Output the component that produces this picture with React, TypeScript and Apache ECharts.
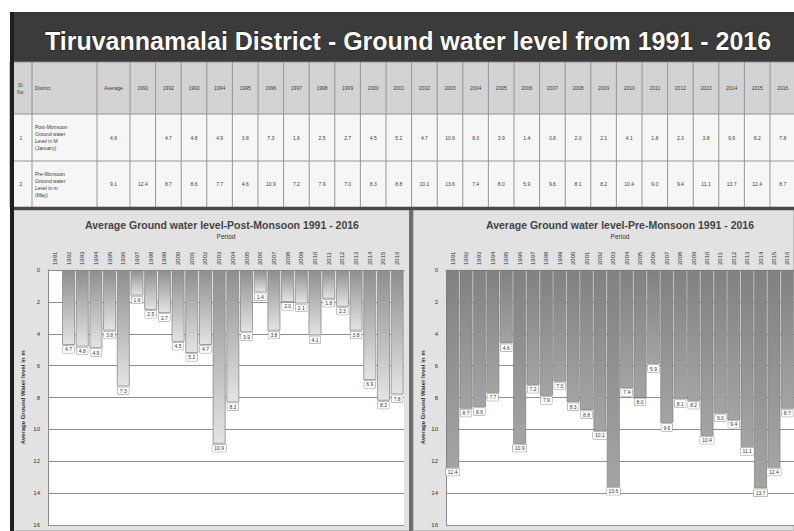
import React, { useEffect, useRef } from "react";
import * as echarts from "echarts";

const mainTitle = "Tiruvannamalai District - Ground water level from 1991 - 2016";
const postTitle = "Average Ground water level-Post-Monsoon 1991 - 2016";
const preTitle = "Average Ground water level-Pre-Monsoon 1991 - 2016";
const xAxisName = "Period";
const yAxisName = "Average Ground Water level in m";

const years = [
  "1991", "1992", "1993", "1994", "1995", "1996", "1997", "1998", "1999", "2000",
  "2001", "2002", "2003", "2004", "2005", "2006", "2007", "2008", "2009", "2010",
  "2011", "2012", "2013", "2014", "2015", "2016",
];
const postMonsoon: (number | null)[] = [
  null, 4.7, 4.8, 4.9, 3.8, 7.3, 1.6, 2.5, 2.7, 4.5,
  5.2, 4.7, 10.9, 8.3, 3.9, 1.4, 3.8, 2.0, 2.1, 4.1,
  1.8, 2.3, 3.8, 6.9, 8.2, 7.8,
];
const preMonsoon: number[] = [
  12.4, 8.7, 8.6, 7.7, 4.6, 10.9, 7.2, 7.9, 7.0, 8.3,
  8.8, 10.1, 13.6, 7.4, 8.0, 5.9, 9.6, 8.1, 8.2, 10.4,
  9.0, 9.4, 11.1, 13.7, 12.4, 8.7,
];
const postAverage = 4.6;
const preAverage = 9.1;
const yMin = 0;
const yMax = 16;
const yStep = 2;

const headerCells = ["Sl.\nNo.", "District", "Average"];
const rowSerial = ["1", "2"];
const rowNames = [
  "Post-Monsoon\nGround water\nLevel in M\n(January)",
  "Pre-Monsoon\nGround water\nLevel in m\n(May)",
];

const FONT = '"Liberation Sans", Arial, sans-serif';

function fmt(v: number | null) {
  return v == null ? "" : v.toFixed(1);
}

function buildGraphic() {
  const g: any[] = [];
  // banner
  g.push({ type: "rect", z: -5, silent: true, shape: { x: 10, y: 12, width: 784, height: 50 }, style: { fill: "#3b3b3b" } });
  g.push({
    type: "text", z: 5, x: 408, y: 41, silent: true,
    style: {
      text: mainTitle, fill: "#ffffff", fontSize: 25, fontWeight: "bold", fontFamily: FONT,
      align: "center", verticalAlign: "middle", stroke: "#1a1a1a", lineWidth: 1,
    },
  });
  // table
  const top = 62;
  const rowH = [52, 47, 46];
  const rowY = [top, top + rowH[0], top + rowH[0] + rowH[1], top + rowH[0] + rowH[1] + rowH[2]];
  const colX: number[] = [10, 32, 97, 130];
  for (let i = 1; i <= years.length; i++) colX.push(130 + i * 25.6);
  g.push({ type: "rect", z: -5, silent: true, shape: { x: 10, y: rowY[0], width: 784, height: rowH[0] }, style: { fill: "#d3d3d3" } });
  g.push({ type: "rect", z: -5, silent: true, shape: { x: 10, y: rowY[1], width: 784, height: rowH[1] + rowH[2] }, style: { fill: "#f6f6f6" } });
  colX.forEach((x) => {
    g.push({ type: "line", z: 1, silent: true, shape: { x1: x, y1: rowY[0], x2: x, y2: rowY[3] }, style: { stroke: "#8d8d8d", lineWidth: 0.9 } });
  });
  rowY.forEach((y) => {
    g.push({ type: "line", z: 1, silent: true, shape: { x1: 10, y1: y, x2: 794, y2: y }, style: { stroke: "#8d8d8d", lineWidth: 0.9 } });
  });
  const txt = (x: number, y: number, text: string, align = "center") => ({
    type: "text", z: 5, x, y, silent: true,
    style: { text, fill: "#3a3a3a", fontSize: 5, fontFamily: FONT, align, verticalAlign: "middle", lineHeight: 7 },
  });
  const hy = rowY[0] + rowH[0] / 2;
  g.push(txt((colX[0] + colX[1]) / 2, hy, headerCells[0]));
  g.push(txt(colX[1] + 3, hy, headerCells[1], "left"));
  g.push(txt((colX[2] + colX[3]) / 2, hy, headerCells[2]));
  years.forEach((yr, i) => g.push(txt((colX[3 + i] + colX[4 + i]) / 2, hy, yr)));
  const rows = [
    { avg: postAverage, vals: postMonsoon },
    { avg: preAverage, vals: preMonsoon as (number | null)[] },
  ];
  rows.forEach((r, ri) => {
    const cy = rowY[ri + 1] + rowH[ri + 1] / 2;
    g.push(txt((colX[0] + colX[1]) / 2, cy, rowSerial[ri]));
    g.push(txt(colX[1] + 3, cy, rowNames[ri], "left"));
    g.push(txt((colX[2] + colX[3]) / 2, cy, fmt(r.avg)));
    r.vals.forEach((v, i) => g.push(txt((colX[3 + i] + colX[4 + i]) / 2, cy, fmt(v))));
  });
  // thick separator below table
  g.push({ type: "rect", z: 2, silent: true, shape: { x: 10, y: 207, width: 784, height: 3 }, style: { fill: "#4a4a4a" } });
  // panels
  g.push({ type: "rect", z: -5, silent: true, shape: { x: 13, y: 210, width: 397, height: 321 }, style: { fill: "#e2e2e2", stroke: "#9a9a9a", lineWidth: 1 } });
  g.push({ type: "rect", z: -5, silent: true, shape: { x: 413, y: 210, width: 381, height: 321 }, style: { fill: "#e2e2e2", stroke: "#9a9a9a", lineWidth: 1 } });
  g.push({ type: "rect", z: 2, silent: true, shape: { x: 409, y: 210, width: 4, height: 321 }, style: { fill: "#6e6e6e" } });
  // plot backgrounds
  g.push({ type: "rect", z: -4, silent: true, shape: { x: 48, y: 270, width: 356, height: 255 }, style: { fill: "#ffffff" } });
  g.push({ type: "rect", z: -4, silent: true, shape: { x: 446, y: 270, width: 348, height: 255 }, style: { fill: "#ffffff" } });
  // left dark border
  g.push({ type: "rect", z: 3, silent: true, shape: { x: 10, y: 12, width: 4, height: 519 }, style: { fill: "#1f1f1f" } });
  return g;
}

function yAxisOpt(nameGap: number) {
  return {
    type: "value", inverse: true, min: yMin, max: yMax, interval: yStep,
    name: yAxisName, nameLocation: "middle", nameGap,
    nameTextStyle: { fontSize: 6, fontWeight: "bold", color: "#333", fontFamily: FONT },
    axisLine: { show: true, lineStyle: { color: "#8a8a8a" } },
    axisTick: { show: false },
    axisLabel: { fontSize: 6, color: "#333", margin: 8, fontFamily: FONT },
    splitLine: { show: true, lineStyle: { color: "#8f8f8f", width: 1 } },
  };
}

function xAxisOpt(gridIndex: number) {
  return {
    type: "category", gridIndex, position: "top", data: years,
    name: xAxisName, nameLocation: "middle", nameGap: 30,
    nameTextStyle: { fontSize: 6.5, color: "#333", fontFamily: FONT },
    axisLine: { show: true, lineStyle: { color: "#8a8a8a" } },
    axisTick: { show: false },
    axisLabel: { rotate: 90, interval: 0, fontSize: 6, color: "#333", margin: 5, fontFamily: FONT },
  };
}

function barLabel() {
  return {
    show: true, position: "bottom", distance: 1,
    formatter: (p: any) => (p.value == null ? "" : Number(p.value).toFixed(1)),
    fontSize: 5, color: "#333", fontFamily: FONT,
    backgroundColor: "#ffffff", borderColor: "#8a8a8a", borderWidth: 0.5, padding: [1, 2],
  };
}

export default function App() {
  const ref = useRef<HTMLDivElement>(null);
  useEffect(() => {
    if (!ref.current) return;
    const chart = echarts.init(ref.current, undefined, { renderer: "svg" });
    chart.setOption({
      animation: false,
      backgroundColor: "#ffffff",
      textStyle: { fontFamily: FONT },
      title: [
        { text: postTitle, left: 222, top: 219, padding: 0, textAlign: "center", textStyle: { fontSize: 10.5, fontWeight: "bold", color: "#444", fontFamily: FONT } },
        { text: preTitle, left: 620, top: 219, padding: 0, textAlign: "center", textStyle: { fontSize: 10.5, fontWeight: "bold", color: "#444", fontFamily: FONT } },
      ],
      graphic: buildGraphic(),
      grid: [
        { left: 48, top: 270, width: 356, height: 255, show: false },
        { left: 446, top: 270, width: 348, height: 255, show: false },
      ],
      xAxis: [xAxisOpt(0), xAxisOpt(1)],
      yAxis: [{ ...yAxisOpt(22), gridIndex: 0 }, { ...yAxisOpt(20), gridIndex: 1 }],
      series: [
        {
          type: "bar", xAxisIndex: 0, yAxisIndex: 0, data: postMonsoon, barCategoryGap: "6%",
          itemStyle: {
            color: new echarts.graphic.LinearGradient(0, 0, 0, 1, [
              { offset: 0, color: "#8e8e8e" },
              { offset: 1, color: "#e4e4e4" },
            ]),
            borderColor: "#8a8a8a", borderWidth: 0.8,
          },
          label: barLabel(),
        },
        {
          type: "bar", xAxisIndex: 1, yAxisIndex: 1, data: preMonsoon, barCategoryGap: "4%",
          itemStyle: {
            color: new echarts.graphic.LinearGradient(0, 0, 0, 1, [
              { offset: 0, color: "#818181" },
              { offset: 1, color: "#a4a4a4" },
            ]),
            borderColor: "#777777", borderWidth: 0.6,
          },
          label: barLabel(),
        },
      ],
    });
    return () => chart.dispose();
  }, []);
  return <div ref={ref} style={{ position: "fixed", left: 0, top: 0, width: 794, height: 531, background: "#fff" }} />;
}
